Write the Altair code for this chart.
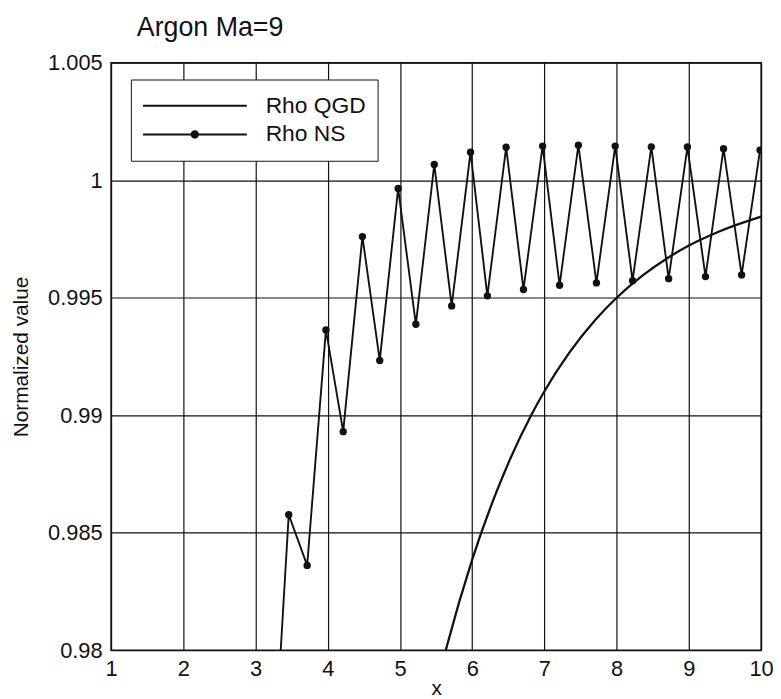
import altair as alt
import pandas as pd

# ---------------- data ----------------
title_text = "Argon Ma=9"
x_title = "x"
y_title = "Normalized value"
series_names = ["Rho QGD", "Rho NS"]

# Rho NS: oscillating series with markers
x_ns = [3.21, 3.46, 3.715, 3.975, 4.214, 4.48, 4.72, 4.975, 5.22, 5.475,
        5.716, 5.977, 6.21, 6.47, 6.71, 6.975, 7.21, 7.47, 7.72, 7.98,
        8.22, 8.48, 8.72, 8.98, 9.23, 9.48, 9.73, 9.985]
y_ns = [0.9728, 0.98577, 0.98361, 0.99363, 0.9893, 0.9976, 0.99233, 0.99965,
        0.99387, 1.00067, 0.99465, 1.00119, 0.99508, 1.0014, 0.99535, 1.00145,
        0.99553, 1.00149, 0.99563, 1.00145, 0.99572, 1.00142, 0.99581, 1.00141,
        0.9959, 1.00134, 0.99597, 1.00128]

# Rho QGD: smooth rising curve
x_qgd = [5.4, 5.65, 6.0, 6.34, 6.52, 6.82, 7.0, 7.34, 7.7, 8.0,
         8.37, 8.69, 9.0, 9.42, 10.0]
y_qgd = [0.97706, 0.98018, 0.98386, 0.98677, 0.9881, 0.99002, 0.99102,
         0.99264, 0.99404, 0.995, 0.99597, 0.99666, 0.99722, 0.99782, 0.99845]

x_ticks = [1, 2, 3, 4, 5, 6, 7, 8, 9, 10]
y_ticks = [0.98, 0.985, 0.99, 0.995, 1.0, 1.005]

# ---------------- styling ----------------
FONT = "Liberation Sans"
INK = "#111111"
# legend glyphs: thin filled bar (line sample), plus a dot for the NS entry
PATH_LINE = "M-1,-0.019L1,-0.019L1,0.019L-1,0.019Z"
PATH_LINE_DOT = (PATH_LINE +
                 "M0.08,0A0.08,0.08,0,1,1,-0.08,0A0.08,0.08,0,1,1,0.08,0Z")

qgd_df = pd.DataFrame({"x": x_qgd, "y": y_qgd, "series": series_names[0]})
ns_df = pd.DataFrame({"x": x_ns, "y": y_ns, "series": series_names[1]})
legend_df = pd.DataFrame({"series": series_names})
title_df = pd.DataFrame({"label": [title_text]})

x_enc = alt.X(
    "x:Q",
    scale=alt.Scale(domain=[1, 10], nice=False, zero=False),
    axis=alt.Axis(
        values=x_ticks, title=x_title, grid=True, ticks=False, tickSize=0,
        domain=False, labelFlush=False, labelOverlap=False, labelPadding=8,
        labelFont=FONT, labelFontSize=22, labelColor=INK,
        gridColor=INK, gridWidth=1.2, gridOpacity=1,
        titleFont=FONT, titleFontSize=21, titleFontWeight="normal",
        titleColor=INK, titleBaseline="alphabetic", titleY=45,
    ),
)
y_enc = alt.Y(
    "y:Q",
    scale=alt.Scale(domain=[0.98, 1.005], nice=False, zero=False),
    axis=alt.Axis(
        values=y_ticks, labelExpr="format(datum.value, '~g')", title=y_title,
        grid=True, ticks=False, tickSize=0, domain=False, labelFlush=False,
        labelOverlap=False, labelPadding=9, labelFont=FONT, labelFontSize=22,
        labelColor=INK, gridColor=INK, gridWidth=1.2, gridOpacity=1,
        titleFont=FONT, titleFontSize=21, titleFontWeight="normal",
        titleColor=INK, titleBaseline="alphabetic", titleX=-84,
    ),
)

qgd_line = alt.Chart(qgd_df).mark_line(
    color=INK, strokeWidth=2.3, clip=True, interpolate="monotone"
).encode(x=x_enc, y=y_enc)

ns_line = alt.Chart(ns_df).mark_line(
    color=INK, strokeWidth=1.9, clip=True
).encode(x=x_enc, y=y_enc)

ns_points = alt.Chart(ns_df).mark_circle(
    color=INK, size=55, opacity=1, clip=True
).encode(x=x_enc, y=y_enc)

legend_layer = alt.Chart(legend_df).mark_point(
    filled=True, fill=INK, strokeWidth=0, opacity=0, size=11025
).encode(
    x=alt.value(0),
    y=alt.value(0),
    shape=alt.Shape(
        "series:N",
        scale=alt.Scale(domain=series_names, range=[PATH_LINE, PATH_LINE_DOT]),
        legend=alt.Legend(
            title=None, orient="none", legendX=20, legendY=17, padding=12,
            symbolSize=11025, symbolStrokeWidth=0, symbolFillColor=INK,
            symbolOpacity=1, symbolOffset=0,
            labelFont=FONT, labelFontSize=23, labelColor=INK, labelOffset=19,
            clipHeight=29, rowPadding=0, fillColor="white", strokeColor=INK,
        ),
    ),
)

title_layer = alt.Chart(title_df).mark_text(
    align="left", baseline="alphabetic", font=FONT, fontSize=27, color=INK
).encode(text="label:N", x=alt.value(26), y=alt.value(-27))

chart = alt.layer(
    qgd_line, ns_line, ns_points, legend_layer, title_layer
).properties(
    width=656,
    height=593,
    autosize=alt.AutoSizeParams(type="none"),
    padding={"left": 104, "top": 52, "right": 12, "bottom": 46},
    background="white",
).configure_view(
    stroke=INK, strokeWidth=1.5
)

chart.save("out.html", embed_options={"renderer": "svg", "actions": False})
